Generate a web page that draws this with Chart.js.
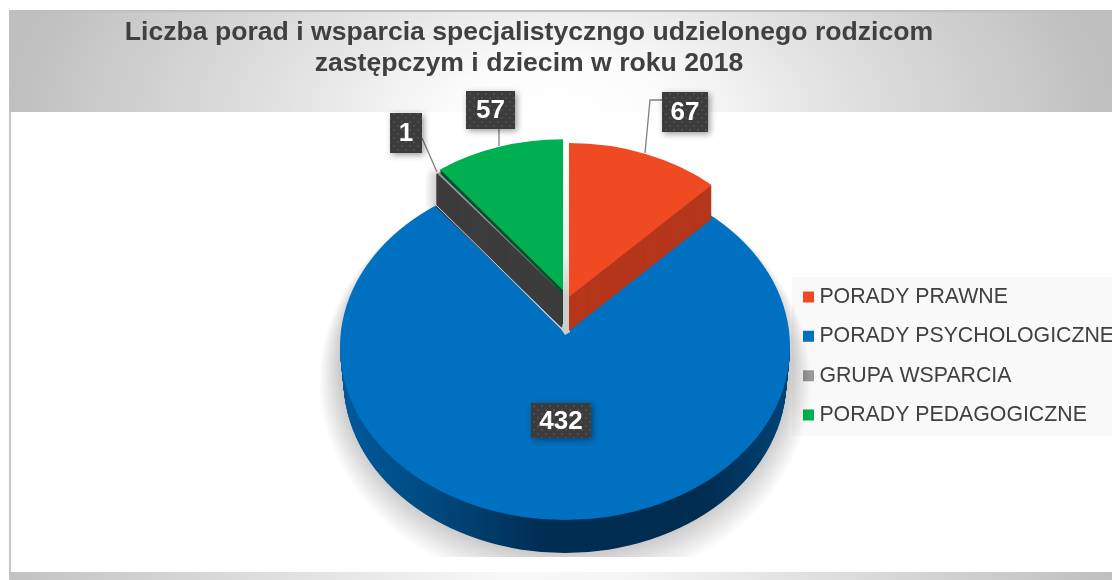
<!DOCTYPE html>
<html lang="pl">
<head>
<meta charset="utf-8">
<title>Liczba porad</title>
<script src="https://cdn.jsdelivr.net/npm/chart.js@4/dist/chart.umd.min.js"></script>
<style>
html,body{margin:0;padding:0;background:#fff;overflow:hidden}
canvas{display:block}
</style>
</head>
<body>
<canvas id="c" width="1112" height="580"></canvas>
<script>
const titleLines = ['Liczba porad i wsparcia specjalistyczngo udzielonego rodzicom', 'zastępczym i dziecim w roku 2018'];
const categories = ['PORADY PRAWNE', 'PORADY PSYCHOLOGICZNE', 'GRUPA WSPARCIA', 'PORADY PEDAGOGICZNE'];
const values = [67, 432, 1, 57];
const colors = ['#f04a23', '#0070c0', '#999999', '#00b050'];

// Slice geometry in the tilted pie (vertex, radius, vertical squash, wall height, wall colour)
const FONT = '"Liberation Sans", Arial, sans-serif';
const sliceGeom = [
  {vx: 569, vy: 297, R: 208, s: 0.74, depth: 34, wall: '#b5361a'},
  {vx: 565, vy: 333, R: 360, s: 0.76, depth: 33},
  {vx: 562, vy: 293, R: 205, s: 0.735, depth: 34, wall: '#3c3c3c', line: true},
  {vx: 563, vy: 290, R: 205, s: 0.735, depth: 35, wall: '#06502a'}
];
const blueEllipse = {cx: 565, cy: 347, rx: 225, ry: 173};
const labelGeom = [
  {x: 662, y: 92, w: 46, h: 40, line: [[645,153],[650,100],[662,100]]},
  {x: 531, y: 403, w: 60, h: 35, line: null},
  {x: 390, y: 113, w: 32, h: 40, line: [[422,138],[437,172]]},
  {x: 466, y: 91, w: 49, h: 38, line: [[499,129],[499,146]]}
];

function place(ctx, el, g) {
  const k = g.R / el.outerRadius;
  ctx.translate(g.vx, g.vy);
  ctx.scale(k, k * g.s);
  ctx.translate(-el.x, -el.y);
}
function fillWedge(ctx, el, g, dy, withLine) {
  ctx.save();
  ctx.translate(0, dy);
  ctx.save();
  place(ctx, el, g);
  ctx.beginPath();
  ctx.moveTo(el.x, el.y);
  ctx.arc(el.x, el.y, el.outerRadius, el.startAngle, el.endAngle);
  ctx.closePath();
  ctx.restore();
  ctx.fill();
  if (withLine) ctx.stroke();
  ctx.restore();
}
function drawFace(ctx, el, g) {
  ctx.save();
  place(ctx, el, g);
  el.draw(ctx);
  ctx.restore();
}
function wall(ctx, el, g) {
  ctx.fillStyle = g.wall;
  ctx.strokeStyle = g.wall;
  ctx.lineWidth = 1.5;
  for (let d = g.depth; d >= 1; d--) fillWedge(ctx, el, g, d, g.line);
}
function dotted(ctx) {
  const p = document.createElement('canvas');
  p.width = 8; p.height = 8;
  const c = p.getContext('2d');
  c.fillStyle = '#3c3c3c'; c.fillRect(0, 0, 8, 8);
  c.fillStyle = '#4e4e4e'; c.fillRect(1, 1, 2, 2); c.fillRect(5, 5, 2, 2);
  return ctx.createPattern(p, 'repeat');
}

const piePlugin = {
  id: 'tiltedPie',
  afterLayout(chart) {
    const t = chart.titleBlock;
    t.left -= 27; t.right -= 27;
    const l = chart.legend;
    l.left = 808.25 - l.options.labels.padding;
    l.right = 1112;
    l.top = 286.4 - l.options.labels.padding;
    l.bottom = 580;
  },
  beforeDraw(chart) {
    const ctx = chart.ctx;
    ctx.save();
    ctx.fillStyle = '#fff'; ctx.fillRect(0, 0, 1112, 580);
    // header band
    ctx.save();
    ctx.beginPath(); ctx.rect(9, 10, 1103, 102); ctx.clip();
    ctx.translate(560, 112); ctx.scale(550, 270);
    const g = ctx.createRadialGradient(0, 0, 0, 0, 0, 1);
    g.addColorStop(0, '#ffffff');
    g.addColorStop(0.2, '#fbfbfb');
    g.addColorStop(0.5, '#e2e2e2');
    g.addColorStop(1, '#bfbfbf');
    ctx.fillStyle = g; ctx.fillRect(-2, -1, 4, 1);
    ctx.restore();
    ctx.fillStyle = '#c6c6c6'; ctx.fillRect(9, 112, 2, 460);
    ctx.fillStyle = '#c0c0c0'; ctx.fillRect(9, 10, 1103, 2);
    ctx.fillStyle = '#f9f9f9'; ctx.fillRect(792, 277, 320, 159);
    ctx.restore();
  },
  beforeDatasetsDraw(chart) {
    const ctx = chart.ctx;
    const els = chart.getDatasetMeta(0).data;
    const [red, blue, gray, green] = els;
    const E = blueEllipse, bg = sliceGeom[1];

    // soft shadow below the big slice, built up ring by ring
    ctx.save();
    ctx.beginPath();
    ctx.rect(11, 113, 1101, 444);
    ctx.clip();
    ctx.fillStyle = 'rgba(0,0,0,0.0095)';
    for (let i = 26; i >= 1; i--) {
      ctx.beginPath();
      ctx.ellipse(E.cx, E.cy + bg.depth / 2 + 0.7 * i, E.rx + 0.8 * i, E.ry + bg.depth / 2 + 0.7 * i, 0, 0, Math.PI * 2);
      ctx.fill();
    }
    ctx.restore();

    // soft shadow beside the dark wall
    ctx.save();
    ctx.strokeStyle = 'rgba(0,0,0,0.016)';
    ctx.lineCap = 'round';
    for (let w = 26; w >= 2; w -= 2) {
      ctx.lineWidth = w;
      ctx.beginPath(); ctx.moveTo(438, 178); ctx.lineTo(438, 204); ctx.stroke();
    }
    ctx.restore();

    // footer band
    const g2 = ctx.createLinearGradient(9, 0, 1112, 0);
    g2.addColorStop(0, '#c2c2c2');
    g2.addColorStop(0.45, '#f8f8f8');
    g2.addColorStop(0.55, '#f6f6f6');
    g2.addColorStop(1, '#bfbfbf');
    ctx.fillStyle = g2; ctx.fillRect(9, 572, 1103, 8);

    // rim of the big slice
    ctx.save();
    ctx.beginPath(); ctx.rect(0, E.cy, 1112, 300); ctx.clip();
    const rim = ctx.createLinearGradient(E.cx - E.rx, 0, E.cx + E.rx, 0);
    rim.addColorStop(0, '#00599c');
    rim.addColorStop(0.2, '#004a80');
    rim.addColorStop(0.45, '#002d52');
    rim.addColorStop(0.8, '#002c50');
    rim.addColorStop(1, '#004375');
    ctx.fillStyle = rim;
    for (let d = bg.depth; d >= 0; d--) {
      ctx.beginPath();
      ctx.ellipse(E.cx, E.cy + d, E.rx - d * 0.105, E.ry, 0, 0, Math.PI * 2);
      ctx.fill();
    }
    ctx.restore();

    // face of the big slice, wedge cut to the tilted outline
    ctx.save();
    ctx.beginPath();
    ctx.ellipse(E.cx, E.cy, E.rx, E.ry, 0, 0, Math.PI * 2);
    ctx.clip();
    drawFace(ctx, blue, bg);
    ctx.restore();

    // gap between the lifted slices
    const gap = ctx.createLinearGradient(0, 140, 0, 335);
    gap.addColorStop(0, '#ffffff');
    gap.addColorStop(0.6, '#eeeeee');
    gap.addColorStop(0.8, '#cfcfcf');
    gap.addColorStop(1, '#cccccc');
    ctx.fillStyle = gap;
    ctx.beginPath();
    ctx.moveTo(561, 140); ctx.lineTo(570, 140); ctx.lineTo(570, 332);
    ctx.lineTo(565, 335); ctx.lineTo(561, 329);
    ctx.closePath(); ctx.fill();

    wall(ctx, red, sliceGeom[0]);
    drawFace(ctx, red, sliceGeom[0]);

    wall(ctx, green, sliceGeom[3]);
    wall(ctx, gray, sliceGeom[2]);
    ctx.strokeStyle = '#c8d2dc';
    ctx.lineWidth = 1;
    ctx.beginPath(); ctx.moveTo(436, 205); ctx.lineTo(562, 329); ctx.stroke();
    drawFace(ctx, gray, sliceGeom[2]);
    drawFace(ctx, green, sliceGeom[3]);

    // value labels and leader lines
    const pat = dotted(ctx);
    values.forEach((v, i) => {
      const b = labelGeom[i];
      if (b.line) {
        ctx.strokeStyle = '#7f7f7f';
        ctx.lineWidth = 1.3;
        ctx.beginPath();
        b.line.forEach((p, j) => j ? ctx.lineTo(p[0], p[1]) : ctx.moveTo(p[0], p[1]));
        ctx.stroke();
      }
      ctx.save();
      ctx.shadowColor = 'rgba(0,0,0,0.4)';
      ctx.shadowBlur = 6;
      ctx.shadowOffsetX = 2;
      ctx.shadowOffsetY = 2;
      ctx.fillStyle = pat;
      ctx.fillRect(b.x, b.y, b.w, b.h);
      ctx.restore();
      ctx.fillStyle = '#ffffff';
      ctx.font = 'bold 26px ' + FONT;
      ctx.textAlign = 'center';
      ctx.textBaseline = 'middle';
      ctx.fillText(String(v), b.x + b.w / 2, b.y + b.h / 2 + 1);
    });
    return false;
  }
};

new Chart(document.getElementById('c'), {
  type: 'pie',
  data: {
    labels: categories,
    datasets: [{data: values, backgroundColor: colors, borderWidth: 0, hoverOffset: 0}]
  },
  plugins: [piePlugin],
  options: {
    responsive: false,
    animation: false,
    events: [],
    rotation: 0,
    plugins: {
      tooltip: {enabled: false},
      title: {
        display: true,
        text: titleLines,
        color: '#404040',
        font: {family: FONT, size: 26.6, weight: 'bold', lineHeight: 1.165},
        padding: {top: 17, bottom: 20}
      },
      legend: {
        position: 'right',
        align: 'start',
        labels: {
          color: '#404040',
          font: {family: FONT, size: 21.3, lineHeight: 1.2},
          usePointStyle: true,
          pointStyle: 'rect',
          boxWidth: 0.5,
          boxHeight: 11,
          padding: 18
        }
      }
    }
  }
});
</script>
</body>
</html>
